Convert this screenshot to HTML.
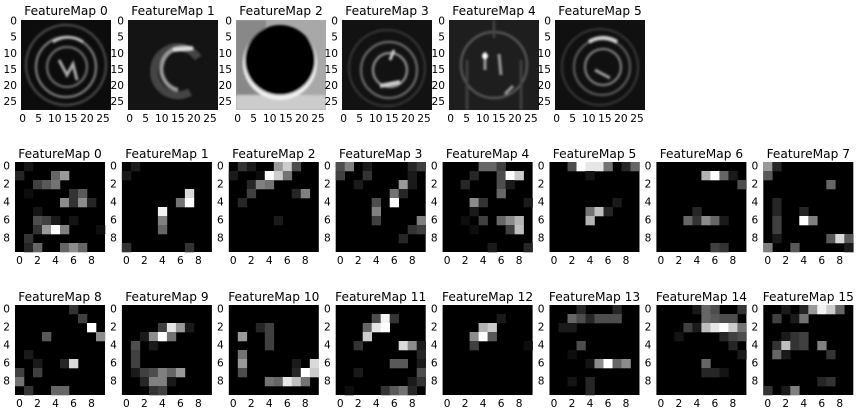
<!DOCTYPE html>
<html><head><meta charset="utf-8"><style>
body{margin:0;background:#fff;width:864px;height:413px;overflow:hidden}
svg{display:block;font-family:"DejaVu Sans","Liberation Sans",sans-serif}
</style></head><body>
<svg id="fig" width="864" height="413" viewBox="0 0 864 413">
<defs>
<filter id="bl" x="-10%" y="-10%" width="120%" height="120%"><feGaussianBlur stdDeviation="1"/></filter>
<clipPath id="c0"><rect x="0" y="0" width="90" height="90"/></clipPath>
</defs>
</svg>
<script>
const NS="http://www.w3.org/2000/svg";
const fig=document.getElementById('fig');
function mk(tag,attrs,parent){const e=document.createElementNS(NS,tag);for(const k in attrs)e.setAttribute(k,attrs[k]);(parent||fig).appendChild(e);return e;}

// ---- Layer 2/3 feature maps: sparse [row, col, value] lists (10x10 grids) ----
const fm0=[[1,0,.15],[0,1,.08],[1,4,.4],[1,5,.6],[2,2,.25],[2,3,.35],[2,4,.45],[3,1,.05],[3,6,.2],[3,7,.35],[4,5,.55],[4,6,.2],[4,7,.55],[4,8,.15],[5,2,.08],[6,2,.3],[6,3,.25],[6,4,.1],[6,6,.08],[7,2,.2],[7,3,.6],[7,4,1],[7,5,.5],[7,9,.05],[8,1,.2],[9,1,.15],[9,2,.4],[9,5,.4],[9,6,.55],[9,7,.4]];
const fm1=[[0,1,.1],[1,0,.1],[3,7,.85],[4,6,.45],[4,7,1],[5,4,.95],[6,4,.5],[7,4,.4],[9,0,.2],[9,7,.2]];
const fm2=[[0,1,.2],[0,2,.1],[0,5,.6],[0,6,.8],[0,7,.3],[1,0,.1],[1,3,.05],[1,4,1],[1,5,.8],[1,6,.45],[2,2,.15],[2,3,.5],[2,4,.45],[3,2,.25],[3,7,.15],[3,8,.5],[4,1,.15],[6,5,.1]];
const fm3=[[0,0,.3],[0,1,.5],[0,3,.1],[0,8,.15],[0,9,.25],[1,0,.25],[1,3,.2],[1,8,.1],[2,2,.1],[2,7,.6],[2,8,.1],[3,6,.45],[3,7,.15],[4,4,.3],[4,6,1],[5,4,.5],[6,4,.25],[6,9,.5],[7,8,.2],[7,9,.25],[8,7,.15]];
const fm4=[[0,4,.4],[0,5,.4],[0,6,.25],[1,3,.15],[1,6,.3],[1,7,1],[1,8,.8],[2,2,.15],[2,6,.3],[2,7,.1],[3,6,.4],[4,3,.55],[4,4,.2],[4,9,.1],[5,3,.1],[6,2,.05],[6,4,.25],[6,6,.4],[6,7,.55],[6,8,.7],[7,3,.05],[7,7,.25],[7,8,.75],[9,5,.1],[9,9,.15]];
const fm5=[[0,2,.3],[0,3,1],[0,4,.9],[0,5,.9],[0,6,.45],[0,8,.15],[0,9,.4],[1,4,.08],[4,7,.1],[5,4,.45],[5,5,.75],[5,6,.15],[6,4,.7]];
const fm6=[[1,5,.7],[1,6,1],[1,7,.4],[1,8,.1],[2,9,.3],[5,4,.15],[6,3,.4],[6,4,.2],[6,5,.55],[6,6,.4],[6,7,.1],[9,6,.25],[9,7,.2]];
const fm7=[[0,0,.6],[0,1,.15],[1,0,.35],[2,7,.4],[4,1,.15],[5,1,.15],[5,4,.15],[6,1,.25],[6,4,1],[6,5,.5],[7,1,.25],[8,1,.1],[8,7,.35],[8,8,.85],[8,9,.35],[9,0,.5],[9,3,.35],[9,9,.1]];
const fm8=[[0,6,.2],[1,7,.25],[2,8,1],[3,3,.35],[3,9,.55],[5,1,.1],[6,2,.1],[6,5,.15],[6,6,.85],[7,0,.25],[7,2,.25],[8,0,.45],[9,1,.2],[9,4,.4],[9,5,.4]];
const fm9=[[2,4,.25],[2,5,.9],[2,6,.6],[2,7,.1],[3,2,.1],[3,3,.55],[3,4,1],[3,5,.45],[4,1,.3],[4,3,.1],[5,1,.25],[6,1,.25],[7,1,.1],[7,2,.25],[7,3,.3],[7,4,.5],[7,5,.4],[7,6,.6],[8,2,.15],[8,3,.5],[8,4,.5],[8,5,.1],[9,3,.2],[9,4,.25]];
const fm10=[[2,3,.15],[2,4,.25],[3,1,.6],[3,4,.25],[4,4,.25],[5,1,.45],[6,1,.6],[6,7,.1],[6,9,.85],[7,1,.3],[7,7,.15],[7,8,1],[7,9,.8],[8,4,.45],[8,5,.4],[8,6,.9],[8,7,.75],[8,8,.45]];
const fm11=[[1,4,.3],[1,5,.95],[1,6,.2],[2,3,.4],[2,4,.9],[2,5,1],[3,3,.8],[4,2,.2],[4,7,.85],[4,8,.55],[4,9,.1],[5,9,.15],[6,6,.35],[6,7,.35],[6,9,.1],[7,2,.1],[7,9,.3],[8,8,.1],[8,9,.2],[9,1,.05],[9,5,.2],[9,6,.35],[9,7,.45],[9,8,.15]];
const fm12=[[1,6,.1],[2,4,.7],[2,5,.8],[3,3,.55],[3,4,1],[3,5,.35],[4,3,.25],[4,9,.05]];
const fm13=[[0,3,.15],[0,7,.15],[1,2,.4],[1,3,.3],[1,4,.15],[1,5,.3],[1,6,.3],[1,7,.3],[2,1,.1],[2,2,.1],[4,3,.3],[5,2,.05],[6,4,.08],[6,5,.55],[6,6,1],[6,7,.4],[6,8,.55],[8,2,.08],[8,4,.15],[9,4,.15]];
const fm14=[[0,4,.1],[0,5,.4],[0,6,.3],[0,9,.2],[1,5,.4],[1,6,.35],[1,7,.3],[1,8,.3],[2,3,.25],[2,4,.1],[2,5,.75],[2,6,.9],[2,7,1],[2,8,.8],[2,9,.45],[3,2,.08],[3,7,.15],[3,8,.25],[3,9,.3],[4,8,.15],[5,9,.1],[6,5,.4],[7,5,.15],[7,6,.15],[7,7,.08]];
const fm15=[[0,2,.1],[0,4,.15],[0,5,.6],[0,6,.95],[0,7,.8],[0,8,.4],[1,1,.25],[1,3,.1],[1,4,.45],[3,2,.1],[3,3,.2],[3,4,.25],[4,1,.2],[4,2,.75],[4,3,.2],[4,4,.25],[4,6,.5],[5,1,.4],[5,2,.1],[5,7,.2],[8,6,.15],[8,7,.2],[9,0,.2],[9,2,.1],[9,3,.5]];
const smallMaps=[fm0,fm1,fm2,fm3,fm4,fm5,fm6,fm7,fm8,fm9,fm10,fm11,fm12,fm13,fm14,fm15];
const smallTicks=[0,2,4,6,8];
const bigTicks=[0,5,10,15,20,25];

const TITLE=12.2, TICK=10.6;
function gray(v){const g=Math.round(Math.max(0,Math.min(1,v))*255);return `rgb(${g},${g},${g})`;}
function text(x,y,s,size,anchor,name){const t=mk('text',{x:x,y:y,'font-size':size,'text-anchor':anchor||'middle','dominant-baseline':'central',fill:'#000'});


t.textContent=s;return t;}

// ---- Row 1: 28x28 maps (drawn as soft shapes) ----
const bigX=[21,128,236,342,449,555], bigY=20, S=90;
function drawBig(i){
  const x0=bigX[i];
  const g=mk('g',{transform:`translate(${x0},${bigY})`,'clip-path':'url(#c0)'});
  
  
  const bgc=['#0c0c0c','#141414','#a8a8a8','#121212','#1e1e1e','#101010'][i];
  mk('rect',{x:0,y:0,width:S,height:S,fill:bgc},g);
  const f=mk('g',{filter:'url(#bl)'},g);
  if(i===0){
    [[45,45,40,'#444'],[45,47,30,'#777'],[46,47,20,'#666']].forEach(r=>mk('circle',{cx:r[0],cy:r[1],r:r[2],fill:'none',stroke:r[3],'stroke-width':2.5},f));
    mk('path',{d:'M38 40 L46 55 L52 44 L56 60',fill:'none',stroke:'#aaa','stroke-width':3},f);
    mk('path',{d:'M32 22 A26 26 0 0 1 62 22',fill:'none',stroke:'#bbb','stroke-width':3},f);
  } else if(i===1){
    mk('path',{d:'M70 38 A24 24 0 1 0 62 72',fill:'none',stroke:'#444','stroke-width':8},f);
    mk('path',{d:'M60 28 A18 18 0 1 0 50 70',fill:'none',stroke:'#999','stroke-width':4},f);
    mk('path',{d:'M45 30 L65 28',stroke:'#ddd','stroke-width':4},f);
  } else if(i===2){
    mk('rect',{x:0,y:0,width:30,height:90,fill:'#888'},f);
    mk('rect',{x:0,y:75,width:90,height:15,fill:'#ccc'},f);
    mk('circle',{cx:44,cy:43,r:37,fill:'#eee'},f);
    mk('circle',{cx:44,cy:40,r:35,fill:'#050505'},f);
  } else if(i===3){
    [[45,48,38,'#333'],[47,50,28,'#666'],[48,50,17,'#888']].forEach(r=>mk('circle',{cx:r[0],cy:r[1],r:r[2],fill:'none',stroke:r[3],'stroke-width':2.5},f));
    mk('path',{d:'M38 66 L58 62',stroke:'#ccc','stroke-width':4},f);
    mk('path',{d:'M48 40 L52 30',stroke:'#ccc','stroke-width':3},f);
  } else if(i===4){
    mk('circle',{cx:45,cy:45,r:33,fill:'none',stroke:'#555','stroke-width':2.5},f);
    mk('path',{d:'M18 40 L18 90 M72 40 L72 90 M45 0 L45 18',stroke:'#444','stroke-width':2.5},f);
    mk('path',{d:'M36 32 L36 50 M50 34 L52 55 M64 66 L56 74',stroke:'#999','stroke-width':3},f);
    mk('circle',{cx:36,cy:36,r:3,fill:'#fff'},f);
  } else {
    [[45,47,38,'#333'],[47,47,28,'#555'],[48,47,18,'#777']].forEach(r=>mk('circle',{cx:r[0],cy:r[1],r:r[2],fill:'none',stroke:r[3],'stroke-width':2.5},f));
    mk('path',{d:'M34 22 A26 26 0 0 1 62 22',fill:'none',stroke:'#ccc','stroke-width':4},f);
    mk('path',{d:'M40 50 L55 58',stroke:'#999','stroke-width':3},f);
  }
  text(x0+S/2,11,'FeatureMap '+i,TITLE,'middle','title-conv1-'+i);
  bigTicks.forEach(t=>{
    const p=(t+0.5)/28*S;
    text(x0-4,bigY+p,String(t),TICK,'end','ytick-conv1-'+i+'-'+t);
    text(x0+p,119,String(t),TICK,'middle','xtick-conv1-'+i+'-'+t);
  });
}
for(let i=0;i<6;i++)drawBig(i);

// ---- Rows 2-3: 10x10 maps ----
function drawSmall(k){
  const col=k%8,row=Math.floor(k/8);
  const x0=15+col*106.9, y0=row===0?162:305;
  const cs=S/10;
  const g=mk('g',{transform:`translate(${x0.toFixed(1)},${y0})`});
  
  
  mk('rect',{x:0,y:0,width:S,height:S,fill:'#000'},g);
  smallMaps[k].forEach(c=>{
    const r=mk('rect',{x:(c[1]*cs).toFixed(2),y:(c[0]*cs).toFixed(2),width:cs+0.3,height:cs+0.3,fill:gray(c[2])},g);
    
    
  });
  text(x0+S/2,row===0?154:297,'FeatureMap '+k,TITLE,'middle','title-conv2-'+k);
  smallTicks.forEach(t=>{
    const p=(t+0.5)*cs;
    text(x0-5,y0+p,String(t),TICK,'end','ytick-conv2-'+k+'-'+t);
    text(x0+p,y0+S+9,String(t),TICK,'middle','xtick-conv2-'+k+'-'+t);
  });
}
for(let k=0;k<16;k++)drawSmall(k);
</script>
</body></html>
